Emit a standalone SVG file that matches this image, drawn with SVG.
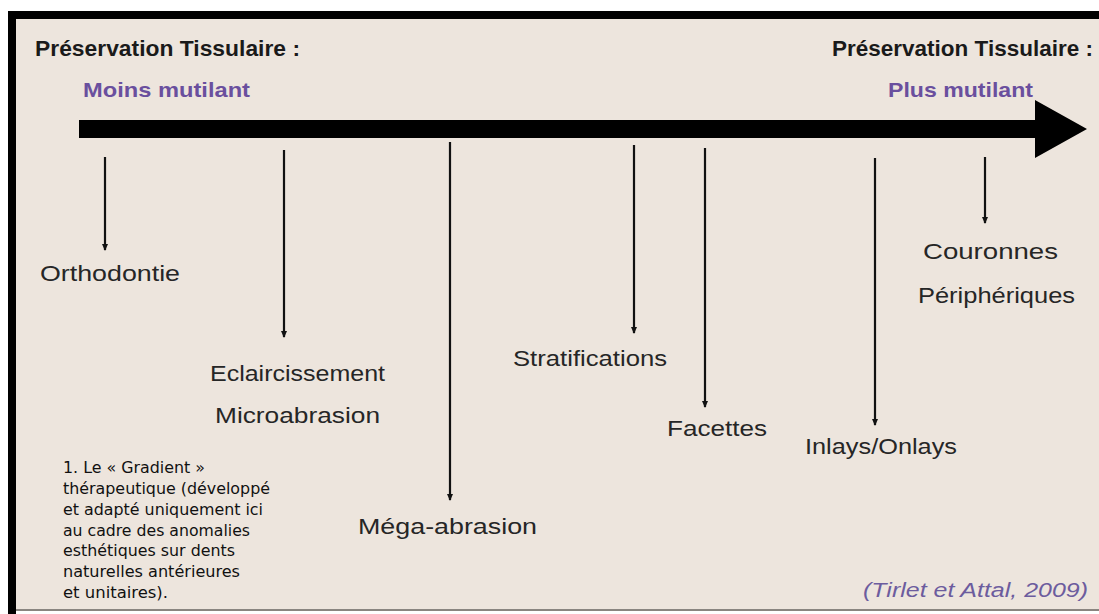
<svg xmlns="http://www.w3.org/2000/svg" width="1099" height="614" viewBox="0 0 1099 614">
<style>
.title{font-family:"Liberation Sans",Arial,sans-serif;font-weight:bold;font-size:22px;fill:#1a1a1a}
.sub{font-family:"Liberation Sans",Arial,sans-serif;font-weight:bold;font-size:21px;fill:#6a4f9e}
.lbl{font-family:"Liberation Sans",Arial,sans-serif;font-size:22px;fill:#262626}
.note{font-family:"DejaVu Sans Condensed","DejaVu Sans",sans-serif;font-size:16.5px;fill:#111}
.cite{font-family:"Liberation Sans",Arial,sans-serif;font-style:italic;font-size:20px;fill:#6c5c9e}
.conn{stroke:#111;stroke-width:2.2;fill:none;marker-end:url(#ah)}
</style>
<defs>
<marker id="ah" markerWidth="8" markerHeight="8" refX="6" refY="3" orient="auto" markerUnits="userSpaceOnUse" viewBox="0 0 8 6">
<path d="M0,0 L7,3 L0,6 Z" fill="#111"/>
</marker>
</defs>
<rect x="0" y="0" width="1099" height="614" fill="#ffffff"/>
<rect x="16" y="19" width="1083" height="591" fill="#ede5dd"/>
<rect x="8" y="11" width="1091" height="8" fill="#000"/>
<rect x="8" y="11" width="8" height="603" fill="#000"/>
<rect x="16" y="609" width="1083" height="2" fill="#8a8580"/>

<g id="header-left">
<text class="title" x="35" y="56" textLength="265" lengthAdjust="spacingAndGlyphs">Préservation Tissulaire :</text>
<text class="sub" x="83" y="97" textLength="167" lengthAdjust="spacingAndGlyphs">Moins mutilant</text>
</g>
<g id="header-right">
<text class="title" x="832" y="56" textLength="261" lengthAdjust="spacingAndGlyphs">Préservation Tissulaire :</text>
<text class="sub" x="888" y="97" textLength="145" lengthAdjust="spacingAndGlyphs">Plus mutilant</text>
</g>
<g id="main-arrow">
<path d="M79,120 L1035,120 L1035,100 L1087,129 L1035,158 L1035,138 L79,138 Z" fill="#000"/>
</g>

<g id="connectors">
<line class="conn" x1="105" y1="157" x2="105" y2="250"/>
<line class="conn" x1="284" y1="150" x2="284" y2="337"/>
<line class="conn" x1="450" y1="142" x2="450" y2="500"/>
<line class="conn" x1="634" y1="145" x2="634" y2="333"/>
<line class="conn" x1="705" y1="148" x2="705" y2="407"/>
<line class="conn" x1="875" y1="158" x2="875" y2="425"/>
<line class="conn" x1="985" y1="157" x2="985" y2="223"/>
</g>

<g id="orthodontie"><text class="lbl" x="40" y="281" textLength="140" lengthAdjust="spacingAndGlyphs">Orthodontie</text></g>
<g id="eclaircissement">
<text class="lbl" x="210" y="381" textLength="175" lengthAdjust="spacingAndGlyphs">Eclaircissement</text>
<text class="lbl" x="215" y="423" textLength="165" lengthAdjust="spacingAndGlyphs">Microabrasion</text>
</g>
<g id="mega-abrasion"><text class="lbl" x="358" y="534" textLength="179" lengthAdjust="spacingAndGlyphs">Méga-abrasion</text></g>
<g id="stratifications"><text class="lbl" x="513" y="366" textLength="154" lengthAdjust="spacingAndGlyphs">Stratifications</text></g>
<g id="facettes"><text class="lbl" x="667" y="436" textLength="100" lengthAdjust="spacingAndGlyphs">Facettes</text></g>
<g id="inlays-onlays"><text class="lbl" x="805" y="454" textLength="152" lengthAdjust="spacingAndGlyphs">Inlays/Onlays</text></g>
<g id="couronnes">
<text class="lbl" x="923" y="259" textLength="135" lengthAdjust="spacingAndGlyphs">Couronnes</text>
<text class="lbl" x="918" y="303" textLength="157" lengthAdjust="spacingAndGlyphs">Périphériques</text>
</g>

<g id="footnote">
<text class="note" x="63" y="473" textLength="142" lengthAdjust="spacingAndGlyphs">1. Le « Gradient »</text>
<text class="note" x="63" y="494" textLength="207" lengthAdjust="spacingAndGlyphs">thérapeutique (développé</text>
<text class="note" x="63" y="515" textLength="200" lengthAdjust="spacingAndGlyphs">et adapté uniquement ici</text>
<text class="note" x="63" y="536" textLength="187" lengthAdjust="spacingAndGlyphs">au cadre des anomalies</text>
<text class="note" x="63" y="556" textLength="172" lengthAdjust="spacingAndGlyphs">esthétiques sur dents</text>
<text class="note" x="63" y="577" textLength="177" lengthAdjust="spacingAndGlyphs">naturelles antérieures</text>
<text class="note" x="63" y="598" textLength="105" lengthAdjust="spacingAndGlyphs">et unitaires).</text>
</g>
<g id="citation"><text class="cite" x="863" y="597" textLength="225" lengthAdjust="spacingAndGlyphs">(Tirlet et Attal, 2009)</text></g>
</svg>
